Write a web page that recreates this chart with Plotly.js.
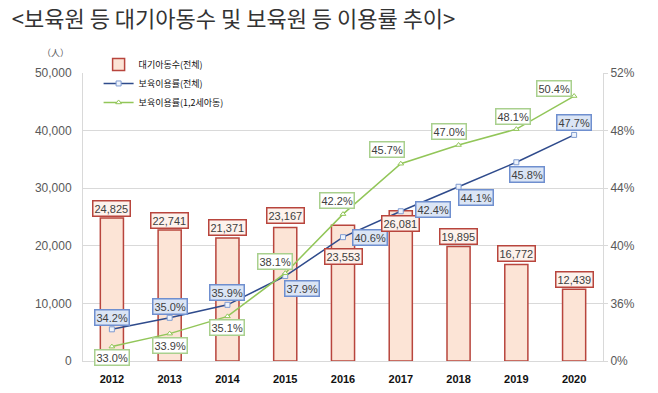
<!DOCTYPE html>
<html><head><meta charset="utf-8">
<script src="https://cdn.plot.ly/plotly-3.0.1.min.js"></script>
<style>html,body{margin:0;padding:0;background:#fff;}#chart{width:658px;height:393px;}</style>
</head><body><div id="chart"></div>
<script>
const years = ['2012','2013','2014','2015','2016','2017','2018','2019','2020'];
const waiting = [24825, 22741, 21371, 23167, 23553, 26081, 19895, 16772, 12439];
const rateAll = [34.2, 35.0, 35.9, 37.9, 40.6, 42.4, 44.1, 45.8, 47.7];
const rateInfant = [33.0, 33.9, 35.1, 38.1, 42.2, 45.7, 47.0, 48.1, 50.4];
const rightTickVals = [32, 36, 40, 44, 48, 52];
const rightTickText = ['0%', '36%', '40%', '44%', '48%', '52%'];
const leftTickVals = [0, 10000, 20000, 30000, 40000, 50000];

// label offsets (pixels) - layout only
const barOff = [[0,10],[0,10],[0,10],[0,12],[0,-31],[0,-13],[0,10],[0,11],[0,10]];
const allOff = [[0,12],[0,11],[0,12],[17,-12],[27,0],[32,2],[17,-11],[11,-12],[0,12]];
const infOff = [[0,-11],[0,-12],[0,-11],[-10,12],[-6,14],[-14,14],[-10,14],[-3,13],[-20,8]];

const FONT = 'Liberation Sans, Arial, sans-serif';
const KFONT = '"Noto Sans CJK KR", "Noto Sans", sans-serif';

const traces = [
  {type:'bar', x:years, y:waiting, name:'대기아동수(전체)', width:0.4,
   marker:{color:'#fce4d6', line:{color:'#b8453d', width:1.5}}, hoverinfo:'skip'},
  {type:'scatter', mode:'lines+markers', x:years, y:rateAll, yaxis:'y2', name:'보육이용률(전체)',
   line:{color:'#2f4b8c', width:1.5}, marker:{symbol:'square', size:5, color:'#eef3fb', line:{color:'#7f9bd0', width:1}}},
  {type:'scatter', mode:'lines+markers', x:years, y:rateInfant, yaxis:'y2', name:'보육이용률(1,2세아동)',
   line:{color:'#92c659', width:1.5}, marker:{symbol:'triangle-up', size:5, color:'#ffffff', line:{color:'#92c659', width:1}}}
];

const annotations = [];
function fmt(n){ return n.toLocaleString('en-US'); }
years.forEach((yr,i)=>{
  annotations.push({x:i, y:waiting[i], xref:'x', yref:'y', text:fmt(waiting[i]), showarrow:false,
    xanchor:'center', yanchor:'middle',
    xshift:barOff[i][0], yshift:barOff[i][1], bgcolor:'#fdf2ec', bordercolor:'#b8453d', borderwidth:1.5, borderpad:1,
    font:{family:FONT, size:11, color:'#404040'}});
  annotations.push({x:i, y:rateAll[i], xref:'x', yref:'y2', text:rateAll[i].toFixed(1)+'%', showarrow:false,
    xanchor:'center', yanchor:'middle',
    xshift:allOff[i][0], yshift:allOff[i][1], bgcolor:'#dbe5f5', bordercolor:'#6f8fcf', borderwidth:1.5, borderpad:1,
    font:{family:FONT, size:11, color:'#404040'}});
  annotations.push({x:i, y:rateInfant[i], xref:'x', yref:'y2', text:rateInfant[i].toFixed(1)+'%', showarrow:false,
    xanchor:'center', yanchor:'middle',
    xshift:infOff[i][0], yshift:infOff[i][1], bgcolor:'#ffffff', bordercolor:'#a9d08e', borderwidth:1.5, borderpad:1,
    font:{family:FONT, size:11, color:'#404040'}});
});
annotations.push({xref:'paper', yref:'paper', x:-0.052, y:1.07, xanchor:'center', yanchor:'middle', text:'（人）', showarrow:false,
  font:{family:KFONT, size:9, color:'#595959'}});

const layout = {
  width:658, height:393,
  margin:{l:83, r:55, t:73, b:32},
  paper_bgcolor:'#ffffff', plot_bgcolor:'#ffffff',
  title:{text:'&lt;보육원 등 대기아동수 및 보육원 등 이용률 추이&gt;', x:0.018, xanchor:'left', y:0.95, yanchor:'middle',
    font:{family:KFONT, size:22, color:'#333333'}},
  showlegend:true,
  legend:{x:0.03, y:1.08, xanchor:'left', yanchor:'top', bgcolor:'rgba(0,0,0,0)',
    font:{family:KFONT, size:9, color:'#111111'}},
  xaxis:{type:'category', range:[-0.5, 8.5], showline:true, linecolor:'#d9d9d9', linewidth:1, ticks:'',
    tickfont:{family:FONT, size:11, color:'#111111', weight:'bold'}, ticklabelstandoff:8, fixedrange:true},
  yaxis:{range:[0,50000], tickvals:leftTickVals, tickformat:',', showgrid:true, gridcolor:'#d9d9d9', zeroline:false,
    showline:true, linecolor:'#d9d9d9', ticks:'', tickfont:{family:FONT, size:12, color:'#595959'}, ticklabelstandoff:8},
  yaxis2:{overlaying:'y', side:'right', range:[32,52], tickvals:rightTickVals, ticktext:rightTickText, showgrid:false,
    zeroline:false, showline:true, linecolor:'#d9d9d9', ticks:'outside', ticklen:4, tickcolor:'#d9d9d9',
    tickfont:{family:FONT, size:12, color:'#595959'}},
  annotations:annotations,
  bargap:0.6
};
Plotly.newPlot('chart', traces, layout, {displayModeBar:false, staticPlot:true});
</script></body></html>
